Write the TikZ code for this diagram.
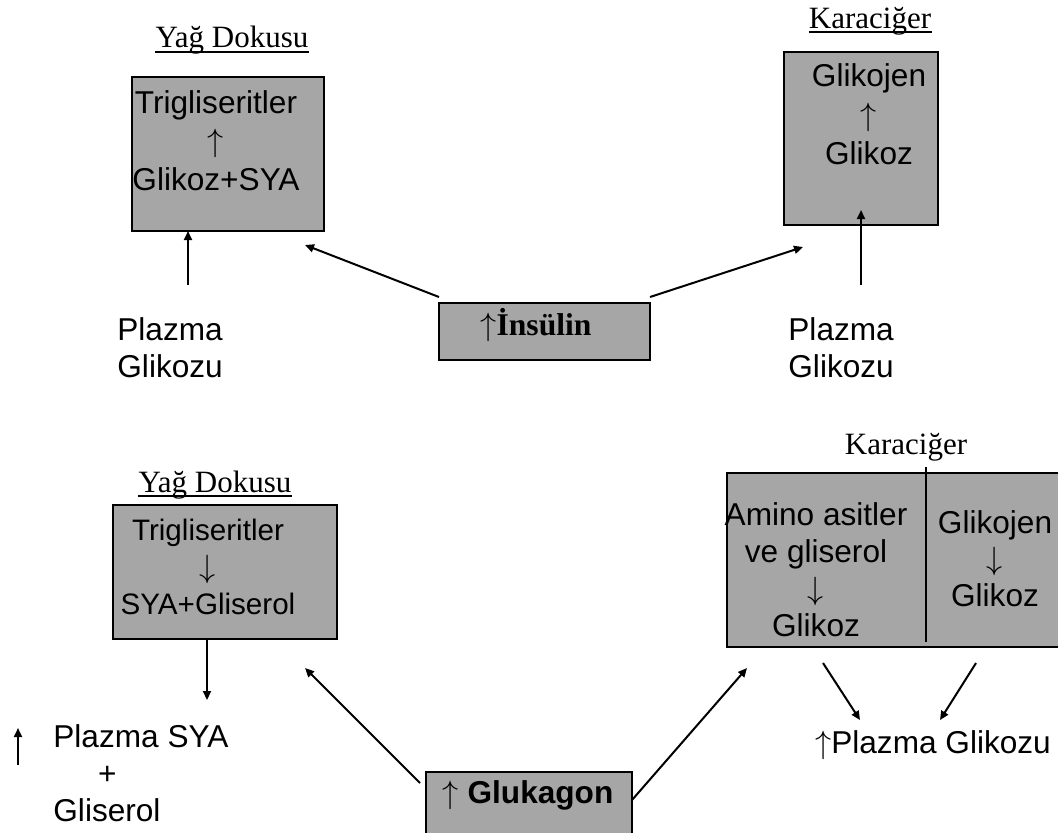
\documentclass[tikz,border=0pt]{standalone}
\usepackage{graphicx}
\usepackage{fontspec}
\setmainfont{Liberation Sans}
\newfontfamily\serifface{Liberation Serif}
\usetikzlibrary{arrows.meta}
\definecolor{panelGray}{RGB}{166,166,166}
\definecolor{panelLine}{RGB}{0,0,0}
\newcommand{\riseArrow}{\scalebox{1.12}{$\uparrow$}}
\newcommand{\fallArrow}{\scalebox{1.12}{$\downarrow$}}

\begin{document}
\begin{tikzpicture}[
    x=0.5pt, y=-0.5pt,
    panel/.style={draw=panelLine, line width=1.3pt, fill=panelGray, inner sep=0pt, outer sep=0pt},
    inbox/.style={inner sep=0pt, align=center, font=\fontsize{15.8}{19.25}\selectfont},
    tissue/.style={inner sep=0pt, anchor=base, font=\serifface\fontsize{15.5}{18}\selectfont},
    underbar/.style={line width=0.7pt, draw=panelLine},
    loose/.style={inner sep=0pt, align=left, anchor=north west, font=\fontsize{15.8}{18.5}\selectfont},
    arrow/.style={-{Triangle[length=4.5pt,width=4pt]}, line width=1pt, draw=panelLine}
]
    \useasboundingbox (0,0) rectangle (1058,832);
    \clip (0,0) rectangle (1058,832);

    \node[panel, minimum width=96pt, minimum height=77pt] (fatTop) at (228,154) {};
    \node[inbox, anchor=north] (fatTopText) at (216,90) {Trigliseritler\\\riseArrow\\Glikoz+SYA};
    \node[tissue] (fatTopLabel) at (232,47) {Yağ Dokusu};
    \draw[underbar] ([yshift=-2.5pt]fatTopLabel.base west) -- ([yshift=-2.5pt]fatTopLabel.base east);
    \node[panel, minimum width=77pt, minimum height=86.5pt] (liverTop) at (861,138.5) {};
    \node[inbox, anchor=north, font=\fontsize{15.8}{19.5}\selectfont] (liverTopText) at (869,63) {Glikojen\\\riseArrow\\Glikoz};
    \node[tissue] (liverTopLabel) at (870,28) {Karaciğer};
    \draw[underbar] ([yshift=-2pt]liverTopLabel.base west) -- ([yshift=-2pt]liverTopLabel.base east);
    \node[panel, minimum width=105.5pt, minimum height=28.5pt] (insulin) at (544.5,331.5) {};
    \node[inbox, anchor=base, font=\serifface\bfseries\fontsize{15.8}{19}\selectfont] (insulinText) at (536,335) {\riseArrow İnsülin};
    \node[loose] (plasmaLeft) at (117,317) {Plazma\\Glikozu};
    \node[loose] (plasmaRight) at (788,317) {Plazma\\Glikozu};

    \coordinate (pL) at (188,285);
    \coordinate (pR) at (861,285);
    \coordinate (fatTopTip) at (305,245);
    \coordinate (liverTopTip) at (803,247);
    \draw[arrow] (pL) -- (pL |- fatTop.south);
    \draw[arrow] (pR) -- ([yshift=7.5pt]pR |- liverTop.south);
    \draw[arrow] ([yshift=3pt]insulin.north west) -- (fatTopTip);
    \draw[arrow] ([yshift=3pt]insulin.north east) -- (liverTopTip);

    \node[panel, minimum width=112pt, minimum height=67pt] (fatBot) at (225,572) {};
    \node[inbox, anchor=north, font=\fontsize{14.8}{18.5}\selectfont] (fatBotText) at (208,519) {Trigliseritler\\\fallArrow\\SYA+Gliserol};
    \node[tissue] (fatBotLabel) at (215,492) {Yağ Dokusu};
    \draw[underbar] ([yshift=-2pt]fatBotLabel.base west) -- ([yshift=-2pt]fatBotLabel.base east);
    \node[panel, minimum width=176.5pt, minimum height=87pt] (liverBot) at (903.5,560) {};
    \draw[line width=1pt] (926,467) -- (926,642);
    \node[inbox, anchor=north, font=\fontsize{15.8}{18.5}\selectfont] (aminoText) at (816,502) {Amino asitler\\ve gliserol\\\fallArrow\\Glikoz};
    \node[inbox, anchor=north, font=\fontsize{15.8}{18.25}\selectfont] (glycogenText) at (995,510) {Glikojen\\\fallArrow\\Glikoz};
    \node[tissue] (liverBotLabel) at (906,454) {Karaciğer};
    \node[panel, minimum width=103pt, minimum height=44pt] (glucagon) at (529,816) {};
    \node[inbox, anchor=base, font=\bfseries\fontsize{15.8}{19}\selectfont] (glucagonText) at (528,803) {\riseArrow{} Glukagon};
    \node[loose] (plasmaSya) at (53,724) {Plazma SYA\\\hspace*{22.4pt}+\\Gliserol};
    \node[inbox, anchor=base] (plasmaGlucose) at (933,753) {\riseArrow Plazma Glikozu};

    \coordinate (syaTip) at (207,700);
    \coordinate (riseTop) at (18,728);
    \coordinate (riseBottom) at (18,765);
    \coordinate (fatBotTip) at (305,668);
    \coordinate (liverBotTip) at (747,668);
    \coordinate (aminoOut) at (823,663);
    \coordinate (glycogenOut) at (976,663);
    \coordinate (glucoseLeft) at (860,720);
    \coordinate (glucoseRight) at (940,720);
    \draw[arrow] (fatBot.south -| syaTip) -- (syaTip);
    \draw[arrow] (riseBottom) -- (riseTop);
    \draw[arrow] ([xshift=-3pt, yshift=-5.5pt]glucagon.north west) -- (fatBotTip);
    \draw[arrow] ([yshift=-14pt]glucagon.north east) -- (liverBotTip);
    \draw[arrow] (aminoOut) -- (glucoseLeft);
    \draw[arrow] (glycogenOut) -- (glucoseRight);
\end{tikzpicture}
\end{document}
